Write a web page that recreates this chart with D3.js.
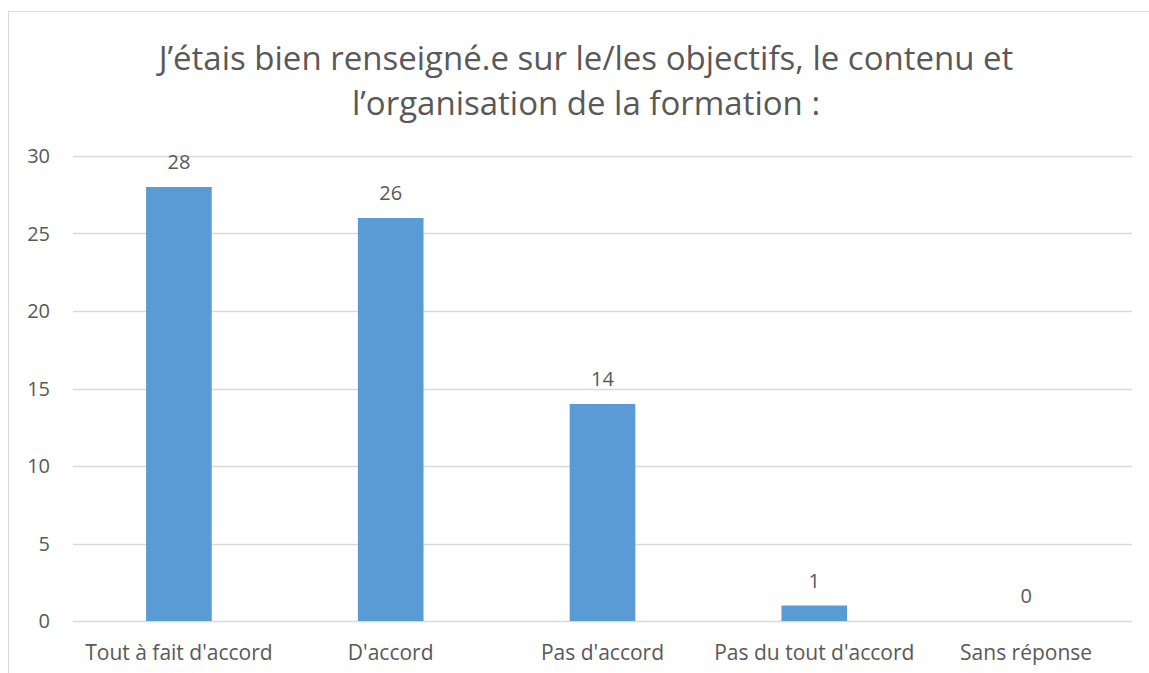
<!DOCTYPE html>
<html>
<head>
<meta charset="utf-8">
<script src="https://cdn.jsdelivr.net/npm/d3@7"></script>
<style>
  html, body { margin: 0; padding: 0; background: #fff; }
  #chart { width: 1149px; height: 673px; }
  text { font-family: "Open Sans", "Noto Sans", sans-serif; fill: #595959; }
</style>
</head>
<body>
<div id="chart"></div>
<script>
// data
const categories = ["Tout à fait d'accord", "D'accord", "Pas d'accord", "Pas du tout d'accord", "Sans réponse"];
const values = [28, 26, 14, 1, 0];
const yTicks = [0, 5, 10, 15, 20, 25, 30];
const titleLines = ["J’étais bien renseigné.e sur le/les objectifs, le contenu et", "l’organisation de la formation :"];

// layout
const svgWidth = 1149;
const svgHeight = 673;
const margin = { top: 156, right: 17, bottom: 52, left: 73 };
const innerWidth = 1132 - margin.left;
const innerHeight = 621 - margin.top;

const svg = d3.select("#chart")
  .append("svg")
  .attr("width", svgWidth)
  .attr("height", svgHeight);

// chart border (clipped on right/bottom like the source)
svg.append("rect")
  .attr("x", 8.5).attr("y", 11.5)
  .attr("width", 1160).attr("height", 700)
  .attr("fill", "none")
  .attr("stroke", "#d9d9d9")
  .attr("stroke-width", 1);

// title
svg.append("text")
  .attr("text-anchor", "middle")
  .style("font-size", "33px")
  .selectAll("tspan")
  .data(titleLines)
  .join("tspan")
  .attr("x", 586)
  .attr("y", (d, i) => 58 + i * 45)
  .attr("dy", "0.35em")
  .text(d => d);

const g = svg.append("g")
  .attr("transform", `translate(${margin.left},${margin.top})`);

// scales
const x = d3.scaleBand()
  .domain(categories)
  .range([0, innerWidth])
  .paddingInner(0.69)
  .paddingOuter(0.345);

const y = d3.scaleLinear()
  .domain([0, 30])
  .range([innerHeight, 0]);

// gridlines
g.selectAll("line.grid")
  .data(yTicks)
  .join("line")
  .attr("class", "grid")
  .attr("x1", 0)
  .attr("x2", innerWidth)
  .attr("y1", d => Math.round(y(d)) + 0.5)
  .attr("y2", d => Math.round(y(d)) + 0.5)
  .attr("stroke", "#d9d9d9")
  .attr("stroke-width", 1.5);

// y tick labels
g.selectAll("text.ytick")
  .data(yTicks)
  .join("text")
  .attr("class", "ytick")
  .attr("x", -23)
  .attr("y", d => y(d))
  .attr("dy", "0.35em")
  .attr("text-anchor", "end")
  .style("font-size", "20px")
  .text(d => d);

// bars
g.selectAll("rect.bar")
  .data(values)
  .join("rect")
  .attr("class", "bar")
  .attr("x", (d, i) => x(categories[i]))
  .attr("y", d => y(d))
  .attr("width", x.bandwidth())
  .attr("height", d => innerHeight - y(d))
  .attr("fill", "#5b9bd5");

// value labels
g.selectAll("text.val")
  .data(values)
  .join("text")
  .attr("class", "val")
  .attr("x", (d, i) => x(categories[i]) + x.bandwidth() / 2)
  .attr("y", d => y(d) - 25)
  .attr("dy", "0.35em")
  .attr("text-anchor", "middle")
  .style("font-size", "20px")
  .text(d => d);

// category labels
g.selectAll("text.cat")
  .data(categories)
  .join("text")
  .attr("class", "cat")
  .attr("x", d => x(d) + x.bandwidth() / 2)
  .attr("y", innerHeight + 32)
  .attr("dy", "0.35em")
  .attr("text-anchor", "middle")
  .style("font-size", "21px")
  .text(d => d);
</script>
</body>
</html>
